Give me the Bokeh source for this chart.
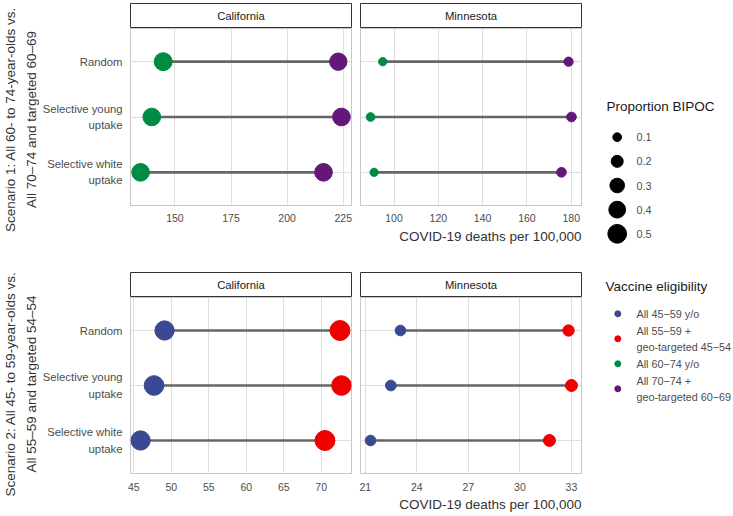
import math
from bokeh.plotting import figure
from bokeh.layouts import row, column
from bokeh.models import Range1d, FactorRange, FixedTicker, Title
from bokeh.core.properties import value
from bokeh.embed import file_html
from bokeh.resources import INLINE

# ---------------- data ----------------
strategy_labels = ["Random", "Selective young\nuptake", "Selective white\nuptake"]
states = ["California", "Minnesota"]

# Scenario 1: COVID-19 deaths per 100,000
s1_ca_all = [144.8, 139.7, 134.7]      # All 60-74 y/o
s1_ca_tgt = [222.8, 224.2, 216.2]      # All 70-74 + geo-targeted 60-69
s1_mn_all = [94.9, 89.4, 91.0]
s1_mn_tgt = [178.8, 180.1, 175.6]
# Scenario 2
s2_ca_all = [49.1, 47.7, 45.9]         # All 45-59 y/o
s2_ca_tgt = [72.5, 72.7, 70.5]         # All 55-59 + geo-targeted 45-54
s2_mn_all = [23.05, 22.49, 21.31]
s2_mn_tgt = [32.83, 33.0, 31.72]

# Proportion BIPOC among vaccinated
s1_ca_all_bipoc = [0.46, 0.445, 0.445]
s1_ca_tgt_bipoc = [0.43, 0.445, 0.445]
s1_mn_all_bipoc = [0.09, 0.10, 0.09]
s1_mn_tgt_bipoc = [0.115, 0.127, 0.127]
s2_ca_all_bipoc = [0.53, 0.55, 0.53]
s2_ca_tgt_bipoc = [0.57, 0.55, 0.57]
s2_mn_all_bipoc = [0.155, 0.155, 0.155]
s2_mn_tgt_bipoc = [0.176, 0.20, 0.20]

x_ticks_s1_ca = [150, 175, 200, 225]
x_ticks_s1_mn = [100, 120, 140, 160, 180]
x_ticks_s2_ca = [45, 50, 55, 60, 65, 70]
x_ticks_s2_mn = [21, 24, 27, 30, 33]

size_breaks = [0.1, 0.2, 0.3, 0.4, 0.5]
eligibility_labels = ["All 45\u221259 y/o", "All 55\u221259 +\ngeo-targeted 45\u221254",
                      "All 60\u221274 y/o", "All 70\u221274 +\ngeo-targeted 60\u221269"]
eligibility_colors = ["#3B4992", "#EE0000", "#008B45", "#631879"]

scenario_titles = [["Scenario 1: All 60- to 74-year-olds vs.", "All 70\u201374 and targeted 60\u201369"],
                   ["Scenario 2: All 45- to 59-year-olds vs.", "All 55\u201359 and targeted 54\u201354"]]
x_title = "COVID-19 deaths per 100,000"

# ---------------- style ----------------
FONT = "Liberation Sans"
CAT = "11.3px"
TICK = "10.5px"
BIG = "13.5px"
GRID = "#dedede"
BORDER = "#c8c8c8"
TICK_COL = "#4d4d4d"
TITLE_COL = "#333333"


def dot_size(v):
    # area-proportional size scale (pixel diameter)
    return math.sqrt(688.0 * v + 7.0)


def strip(name, left, right, top, height):
    p = figure(frame_width=221, frame_height=height, x_range=Range1d(0, 1), y_range=Range1d(0, 1),
               x_axis_location=None, y_axis_location=None, toolbar_location=None, title=None,
               output_backend="svg", min_border_left=left, min_border_right=right,
               min_border_top=top, min_border_bottom=0)
    p.grid.visible = False
    p.outline_line_color = "#333333"
    p.outline_line_width = 1
    p.text(x=[0.5], y=[0.5], text=[name], text_align="center", text_baseline="middle",
           text_font=value(FONT), text_font_size=CAT, text_color="#1a1a1a")
    return p


def panel(all_v, tgt_v, all_b, tgt_b, col_all, col_tgt, ticks, left, right, fh, bottom,
          show_y, show_title, tick_standoff, title_standoff):
    lo = min(all_v + tgt_v)
    hi = max(all_v + tgt_v)
    pad = 0.05 * (hi - lo)
    p = figure(frame_width=221, frame_height=fh, x_range=Range1d(lo - pad, hi + pad),
               y_range=FactorRange(factors=list(reversed(strategy_labels)), range_padding=0.1,
                                   range_padding_units="absolute"),
               toolbar_location=None, title=None, output_backend="svg",
               min_border_left=left, min_border_right=right, min_border_top=0, min_border_bottom=bottom)
    p.outline_line_color = BORDER
    p.outline_line_width = 1
    p.xgrid.grid_line_color = GRID
    p.ygrid.grid_line_color = GRID
    p.xaxis.ticker = FixedTicker(ticks=ticks)
    for ax in (p.xaxis[0], p.yaxis[0]):
        ax.axis_line_color = None
        ax.major_tick_line_color = None
        ax.minor_tick_line_color = None
        ax.major_tick_out = 0
        ax.major_tick_in = 0
        ax.major_label_text_font = FONT
        ax.major_label_text_color = TICK_COL
    p.xaxis.major_label_text_font_size = TICK
    p.yaxis.major_label_text_font_size = CAT
    p.xaxis.major_label_standoff = tick_standoff
    p.yaxis.major_label_standoff = 8
    p.yaxis.major_label_text_line_height = 1.35
    if not show_y:
        p.yaxis.visible = False
    ys = strategy_labels
    p.segment(x0=all_v, y0=ys, x1=tgt_v, y1=ys, line_color="#666666", line_width=2.7)
    p.scatter(x=all_v, y=ys, size=[dot_size(b) for b in all_b], fill_color=col_all, line_color=col_all)
    p.scatter(x=tgt_v, y=ys, size=[dot_size(b) for b in tgt_b], fill_color=col_tgt, line_color=col_tgt)
    if show_title:
        t = Title(text=x_title, align="right", text_font=FONT, text_font_size=BIG,
                  text_font_style="normal", text_color=TITLE_COL, standoff=title_standoff)
        p.add_layout(t, "below")
    return p


YT_W = 39


def ytitle(lines, height, cy):
    p = figure(width=YT_W, height=height, x_range=Range1d(0, YT_W), y_range=Range1d(height, 0),
               x_axis_location=None, y_axis_location=None, toolbar_location=None, title=None,
               output_backend="svg", min_border=0)
    p.grid.visible = False
    p.outline_line_color = None
    p.text(x=[10, 30.5], y=[cy, cy], text=lines, angle=math.pi / 2, text_align="center",
           text_baseline="middle", text_font=value(FONT), text_font_size=BIG,
           text_color=TITLE_COL)
    return p


CA_L, CA_R = 91, 4
MN_L, MN_R = 5, 9

# top row (scenario 1)
ca1 = panel(s1_ca_all, s1_ca_tgt, s1_ca_all_bipoc, s1_ca_tgt_bipoc, eligibility_colors[2],
            eligibility_colors[3], x_ticks_s1_ca, CA_L, CA_R, 177, 67, True, False, 8, 4)
mn1 = panel(s1_mn_all, s1_mn_tgt, s1_mn_all_bipoc, s1_mn_tgt_bipoc, eligibility_colors[2],
            eligibility_colors[3], x_ticks_s1_mn, MN_L, MN_R, 177, 67, False, True, 8, 4)
top = row(ytitle(scenario_titles[0], 272, 119),
          column(strip(states[0], CA_L, CA_R, 3, 25), ca1),
          column(strip(states[1], MN_L, MN_R, 3, 25), mn1))

# bottom row (scenario 2)
ca2 = panel(s2_ca_all, s2_ca_tgt, s2_ca_all_bipoc, s2_ca_tgt_bipoc, eligibility_colors[0],
            eligibility_colors[1], x_ticks_s2_ca, CA_L, CA_R, 176, 42, True, False, 9, 3)
mn2 = panel(s2_mn_all, s2_mn_tgt, s2_mn_all_bipoc, s2_mn_tgt_bipoc, eligibility_colors[0],
            eligibility_colors[1], x_ticks_s2_mn, MN_L, MN_R, 176, 42, False, True, 9, 3)
bottom = row(ytitle(scenario_titles[1], 243, 111.5),
             column(strip(states[0], CA_L, CA_R, 0, 25), ca2),
             column(strip(states[1], MN_L, MN_R, 0, 25), mn2))

# legend panel
LW, LH = 142, 515
leg = figure(width=LW, height=LH, x_range=Range1d(0, LW), y_range=Range1d(LH, 0),
             x_axis_location=None, y_axis_location=None, toolbar_location=None, title=None,
             output_backend="svg", min_border=0)
leg.grid.visible = False
leg.outline_line_color = None
leg.text(x=[16, 15], y=[106, 286], text=["Proportion BIPOC", "Vaccine eligibility"],
         text_align="left", text_baseline="middle", text_font=value(FONT),
         text_font_size=BIG, text_color="#1a1a1a")
size_y = [136.7 + i * 24.15 for i in range(len(size_breaks))]
leg.scatter(x=[26.7] * len(size_breaks), y=size_y, size=[dot_size(b) for b in size_breaks],
            fill_color="black", line_color="black")
leg.text(x=[46] * len(size_breaks), y=size_y, text=[f"{b:.1f}" for b in size_breaks],
         text_align="left", text_baseline="middle", text_font=value(FONT),
         text_font_size="10.8px", text_color=TICK_COL)
elig_y = [313.3 + i * 25 for i in range(len(eligibility_labels))]
leg.scatter(x=[27.3] * len(eligibility_labels), y=elig_y, size=6, fill_color=eligibility_colors,
            line_color=eligibility_colors)
leg.text(x=[46] * len(eligibility_labels), y=elig_y, text=eligibility_labels,
         text_align="left", text_baseline="middle", text_font=value(FONT),
         text_font_size="10.8px", text_color=TICK_COL, text_line_height=1.35)

layout = row(column(top, bottom), leg)

open("out.html", "w").write(file_html(layout, INLINE))
